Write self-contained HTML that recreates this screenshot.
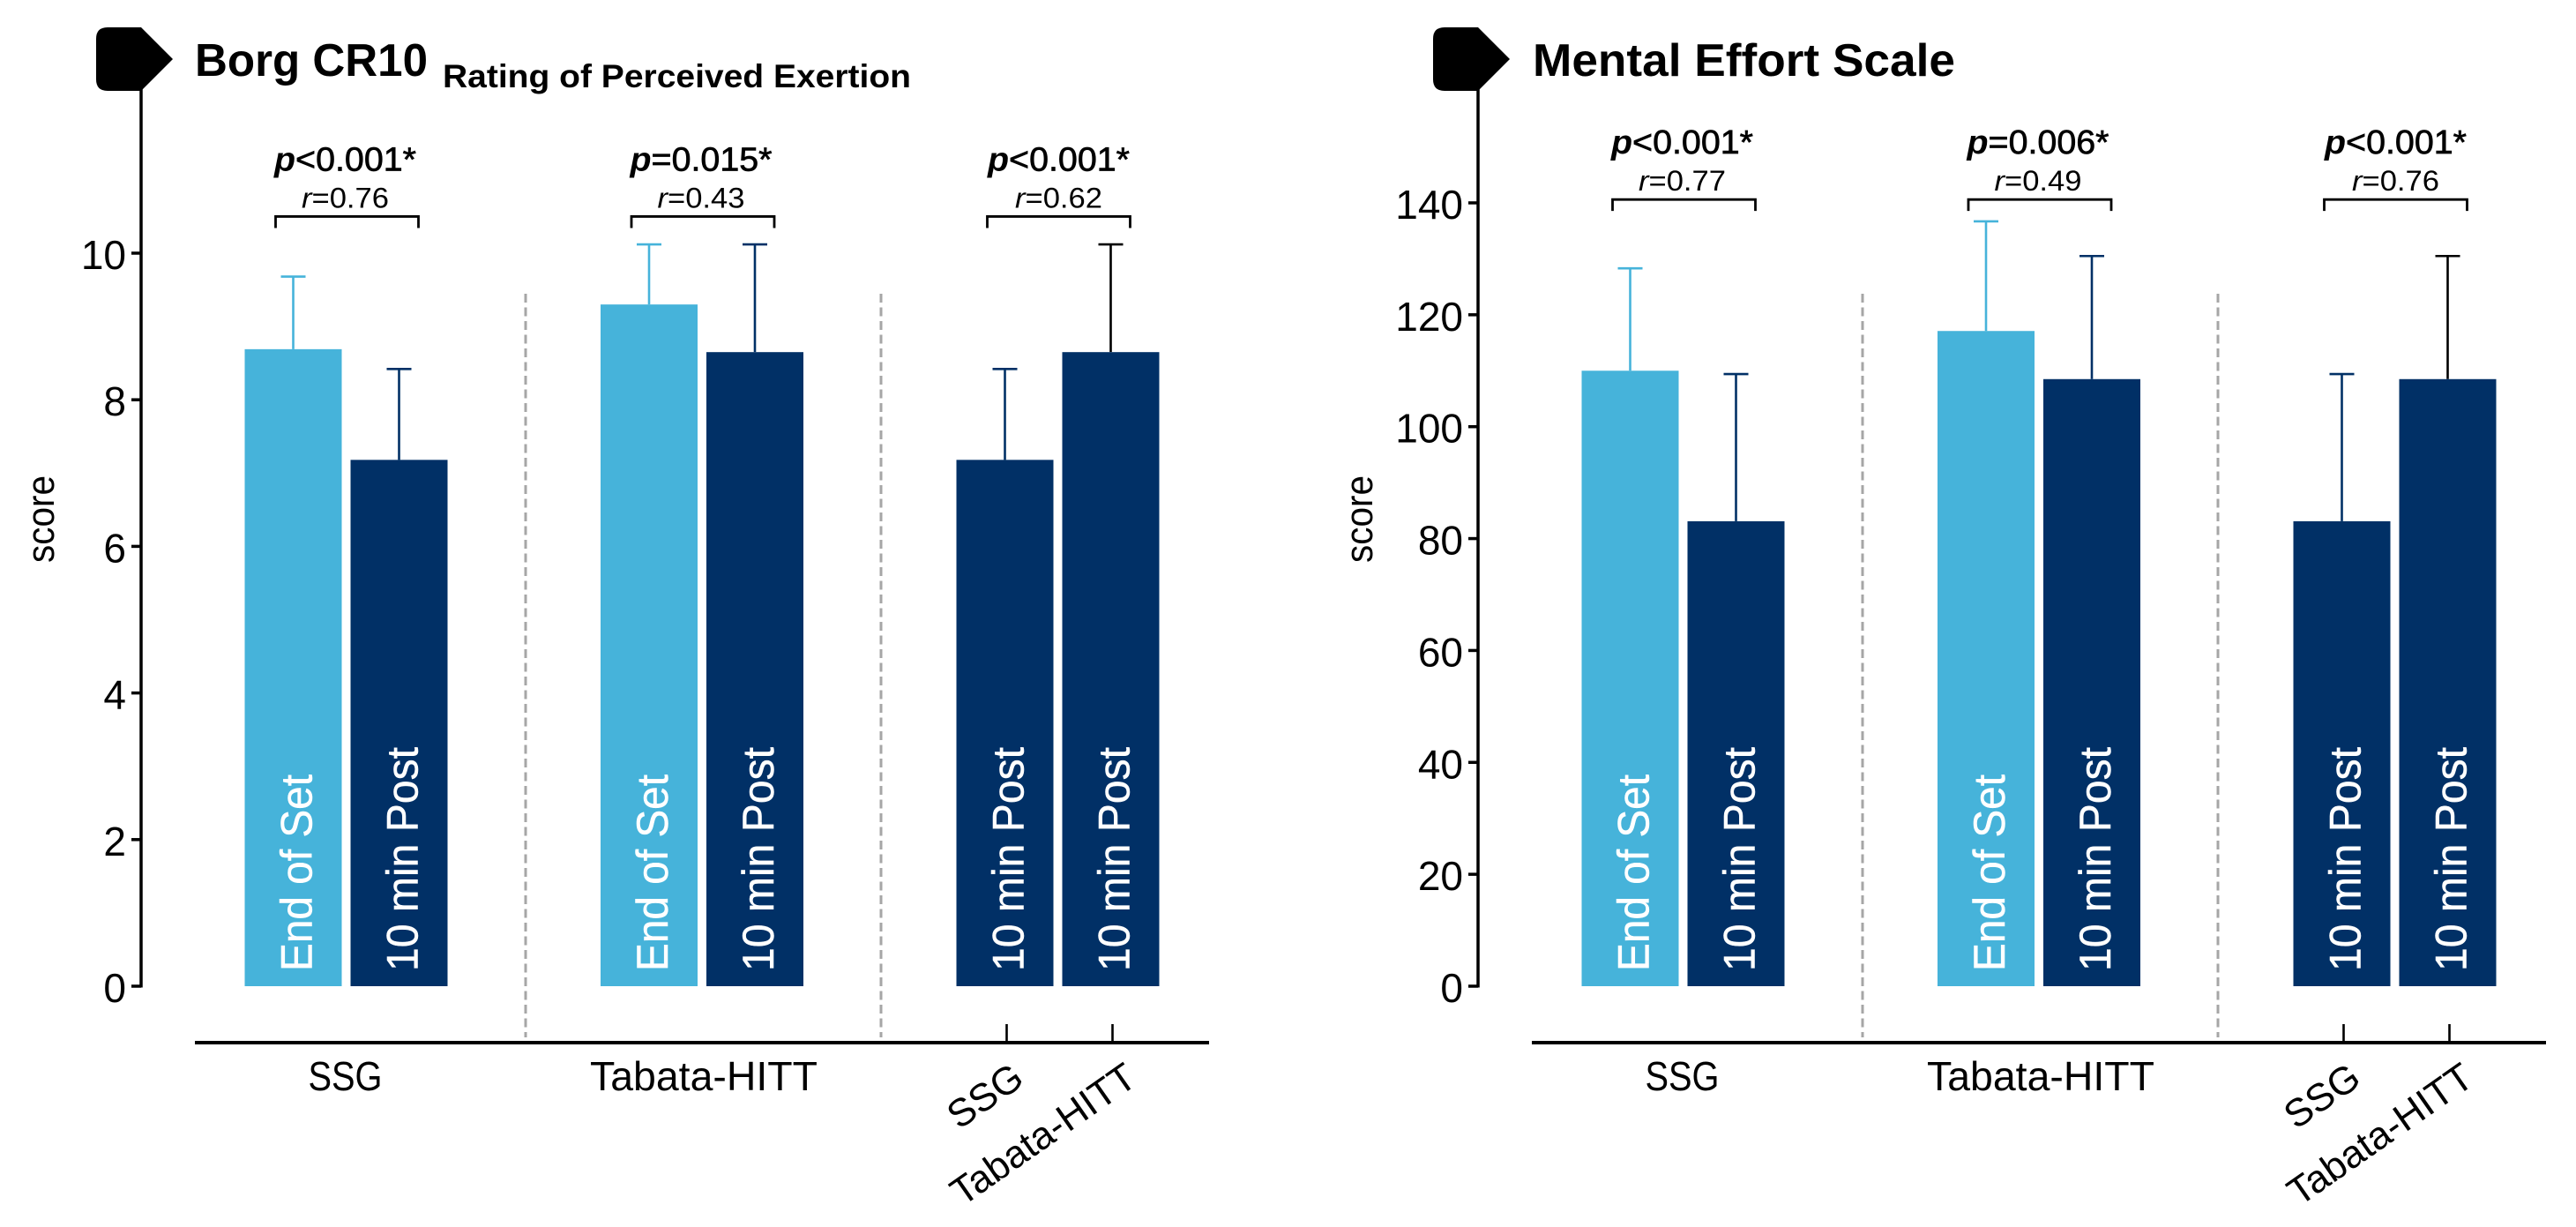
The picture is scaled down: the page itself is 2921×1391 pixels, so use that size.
<!DOCTYPE html>
<html lang="en">
<head>
<meta charset="utf-8">
<title>Borg CR10 and Mental Effort Scale</title>
<style>
html,body{margin:0;padding:0;background:#fff;}
svg{display:block;position:absolute;left:0;top:0;}
text{font-family:"Liberation Sans",sans-serif;fill:#000;}
</style>
</head>
<body>
<svg id="chart" xmlns="http://www.w3.org/2000/svg" width="2921" height="1391" viewBox="0 0 2921 1391"></svg>
<script>
// Shared categories
const barLabels = ['End of Set', '10 min Post', 'End of Set', '10 min Post', '10 min Post', '10 min Post'];
const barKinds = ['light', 'dark', 'light', 'dark', 'dark', 'dark'];
const groupLabels = ['SSG', 'Tabata-HITT'];
const subLabels = ['SSG', 'Tabata-HITT'];

// Borg CR10
const borgMeans = [8.69, 7.18, 9.30, 8.65, 7.18, 8.65];
const borgSD = [0.99, 1.24, 0.82, 1.47, 1.24, 1.47];
const borgTicks = [0, 2, 4, 6, 8, 10];
const borgP = ['<0.001*', '=0.015*', '<0.001*'];
const borgR = ['0.76', '0.43', '0.62'];

// Mental Effort Scale
const mesMeans = [110.0, 83.1, 117.1, 108.5, 83.1, 108.5];
const mesSD = [18.3, 26.3, 19.6, 22.0, 26.3, 22.0];
const mesTicks = [0, 20, 40, 60, 80, 100, 120, 140];
const mesP = ['<0.001*', '=0.006*', '<0.001*'];
const mesR = ['0.77', '0.49', '0.76'];

const NS = 'http://www.w3.org/2000/svg';
const root = document.getElementById('chart');
const LIGHT = '#46B3DA';
const DARK = '#013066';
const BASE_Y = 1118;

function mk(parent, tag, attrs, txt) {
  const el = document.createElementNS(NS, tag);
  for (const k in attrs) el.setAttribute(k, attrs[k]);
  if (txt !== undefined) el.textContent = txt;
  parent.appendChild(el);
  return el;
}

function drawPanel(cfg) {
  const dx = cfg.dx;
  const yScale = v => BASE_Y - v * cfg.pxPerUnit;
  const barX = i => dx + 332.5 + 403.5 * Math.floor(i / 2) + 120 * (i % 2);
  const groupX = g => dx + 392.5 + 403.5 * g;

  const g = mk(root, 'g', {});
  
  

  // Header marker
  const marker = mk(g, 'path', {
    d: `M${dx + 122},31 H${dx + 160} L${dx + 196},67 L${dx + 160},103 H${dx + 122} Q${dx + 109},103 ${dx + 109},90 V44 Q${dx + 109},31 ${dx + 122},31 Z`,
    fill: '#000'
  });
  
  

  // Title
  const title = mk(g, 'text', {
    x: dx + cfg.titleX, y: 86, 'font-size': 52, 'font-weight': 'bold',
    textLength: cfg.titleLen, lengthAdjust: 'spacingAndGlyphs'
  }, cfg.title);
  
  

  if (cfg.subtitle) {
    const sub = mk(g, 'text', {
      x: dx + 502, y: 99, 'font-size': 37, 'font-weight': 'bold',
      textLength: 531, lengthAdjust: 'spacingAndGlyphs'
    }, cfg.subtitle);
    
    
  }

  // Y axis
  const yAxis = mk(g, 'line', {
    x1: dx + 160, x2: dx + 160, y1: 100, y2: BASE_Y + 1.5, stroke: '#000', 'stroke-width': 3.5
  });
  
  

  cfg.ticks.forEach(t => {
    const tick = mk(g, 'line', {
      x1: dx + 149, x2: dx + 160, y1: yScale(t), y2: yScale(t), stroke: '#000', 'stroke-width': 3.5
    });
    
    

    const lab = mk(g, 'text', {
      x: dx + 143, y: yScale(t) + 18, 'text-anchor': 'end', 'font-size': 46
    }, String(t));
    
    
  });

  const yTitle = mk(g, 'text', {
    transform: `translate(${dx + cfg.scoreX},638) rotate(-90)`, 'font-size': 44,
    textLength: 99, lengthAdjust: 'spacingAndGlyphs'
  }, 'score');
  
  

  // X axis
  const xAxis = mk(g, 'line', {
    x1: dx + 221, x2: dx + 1371, y1: 1182, y2: 1182, stroke: '#000', 'stroke-width': 4
  });
  
  

  // Dividers
  [0, 1].forEach(d => {
    const xd = dx + 596 + 403 * d;
    const div = mk(g, 'line', {
      x1: xd, x2: xd, y1: 333, y2: 1176, stroke: '#A6A6A6', 'stroke-width': 3, 'stroke-dasharray': '10 5.5'
    });
    
    
  });

  // Bars and error bars
  cfg.means.forEach((m, i) => {
    const color = barKinds[i] === 'light' ? LIGHT : DARK;
    const errColor = i === 5 ? '#000' : color;
    const cx = barX(i);
    const top = yScale(m);
    const errTop = yScale(m + cfg.sd[i]);

    const stem = mk(g, 'line', {
      x1: cx, x2: cx, y1: top, y2: errTop, stroke: errColor, 'stroke-width': 2.6
    });
    
    

    const cap = mk(g, 'line', {
      x1: cx - 14, x2: cx + 14, y1: errTop, y2: errTop, stroke: errColor, 'stroke-width': 2.6
    });
    
    

    const bar = mk(g, 'rect', {
      x: cx - 55, y: top, width: 110, height: BASE_Y - top, fill: color
    });
    
    

    const isEnd = barLabels[i] === 'End of Set';
    const lab = mk(g, 'text', {
      transform: `translate(${cx + 21},1101) rotate(-90)`, 'font-size': 50,
      textLength: isEnd ? 223 : 254, lengthAdjust: 'spacingAndGlyphs',
      stroke: '#fff', 'stroke-width': 0.5
    }, barLabels[i]);
    lab.style.fill = '#fff';
    
    
  });

  // Group labels
  groupLabels.forEach((lb, k) => {
    const t = mk(g, 'text', {
      x: groupX(k) + (k === 1 ? 2 : -1), y: 1236, 'text-anchor': 'middle', 'font-size': 46,
      textLength: k === 0 ? 84 : 258, lengthAdjust: 'spacingAndGlyphs'
    }, lb);
    
    
  });

  // Third-group ticks and angled labels
  subLabels.forEach((lb, k) => {
    const cx = barX(4 + k) + 2;
    const tk = mk(g, 'line', {
      x1: cx, x2: cx, y1: 1161, y2: 1182, stroke: '#000', 'stroke-width': 2.6
    });
    
    

    const t = mk(g, 'text', {
      transform: `translate(${cx + (k === 0 ? 22 : 30)},1228) rotate(-35)`, 'text-anchor': 'end', 'font-size': 44
    }, lb);
    
    
  });

  // Significance annotations
  cfg.p.forEach((pv, k) => {
    const bl = dx + 312.5 + 403.5 * k;
    const br = bl + 162;
    const mid = (bl + br) / 2;
    const by = yScale(cfg.bracketLevel);
    const tx = mid - (k === 2 ? 0 : 2);

    const bracket = mk(g, 'path', {
      d: `M${bl},${by + 13} V${by} H${br} V${by + 13}`, fill: 'none', stroke: '#000', 'stroke-width': 2.8
    });
    
    

    const ptxt = mk(g, 'text', {
      x: tx, y: by - 52, 'text-anchor': 'middle', 'font-size': 38,
      textLength: 161, lengthAdjust: 'spacingAndGlyphs'
    });
    
    
    mk(ptxt, 'tspan', { 'font-weight': 'bold', 'font-style': 'italic' }, 'p');
    mk(ptxt, 'tspan', { stroke: '#000', 'stroke-width': 0.7 }, pv);

    const rtxt = mk(g, 'text', {
      x: tx, y: by - 10, 'text-anchor': 'middle', 'font-size': 32,
      textLength: 99, lengthAdjust: 'spacingAndGlyphs'
    });
    
    
    mk(rtxt, 'tspan', { 'font-style': 'italic' }, 'r');
    mk(rtxt, 'tspan', {}, '=' + cfg.r[k]);
  });
}

drawPanel({
  name: 'borg-cr10', dx: 0, pxPerUnit: 83.1, ticks: borgTicks, means: borgMeans, sd: borgSD,
  p: borgP, r: borgR, bracketLevel: 10.5, title: 'Borg CR10', titleX: 221, titleLen: 264,
  subtitle: 'Rating of Perceived Exertion', scoreX: 61
});
drawPanel({
  name: 'mental-effort', dx: 1516, pxPerUnit: 6.343, ticks: mesTicks, means: mesMeans, sd: mesSD,
  p: mesP, r: mesR, bracketLevel: 140.6, title: 'Mental Effort Scale', titleX: 222, titleLen: 479,
  subtitle: '', scoreX: 40
});
</script>
</body>
</html>
